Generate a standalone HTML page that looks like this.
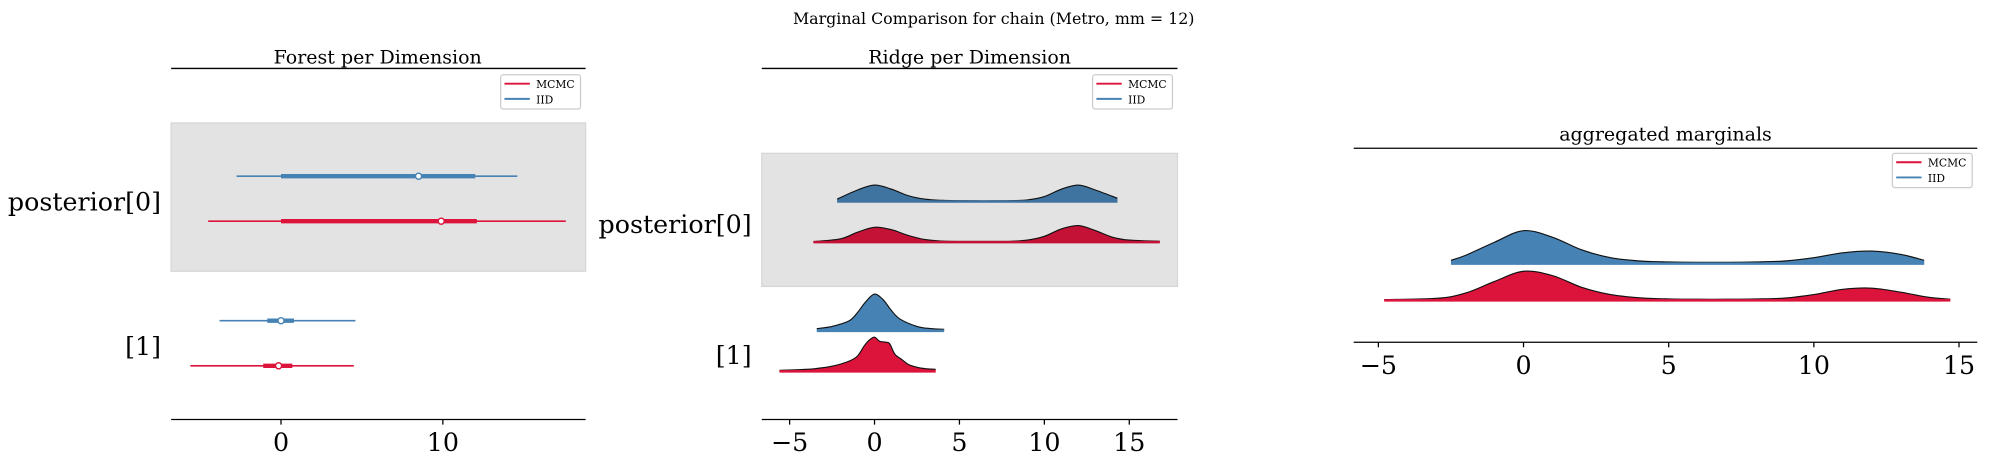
<!DOCTYPE html>
<html><head><meta charset="utf-8"><style>
body{margin:0;background:#fff}
svg{display:block;font-family:"DejaVu Serif","Liberation Serif",serif}
</style></head><body>
<svg id="c" width="1990" height="465" xmlns="http://www.w3.org/2000/svg"><g id="root" transform="scale(1.2675)"></g></svg>
<script>
// ---- data ----
const forestRows = ["posterior[0]", "[1]"];
const forestIIDLow = [-2.74, -3.8], forestIIDHigh = [14.6, 4.6];
const forestIIDQ1 = [0.0, -0.85], forestIIDQ3 = [12.0, 0.8], forestIIDMed = [8.5, 0.0];
const forestMCMCLow = [-4.5, -5.6], forestMCMCHigh = [17.6, 4.5];
const forestMCMCQ1 = [0.0, -1.1], forestMCMCQ3 = [12.1, 0.7], forestMCMCMed = [9.9, -0.15];
const forestTicks = [0, 10];
const ridgeTicks = [-5, 0, 5, 10, 15];
const aggTicks = [-5, 0, 5, 10, 15];
// densities (x grid, relative height)
const iid0X = [-2.2,-1,0,1,2,3,4,5,6,7,8,9,10,11,12,13,14.3];
const iid0Y = [0.15,0.7,1.0,0.75,0.35,0.14,0.07,0.05,0.04,0.04,0.05,0.1,0.3,0.75,1.0,0.7,0.2];
const mcmc0X = [-3.6,-2,-1,0,1,2,3,4,5,6,7,8,9,10,11,12,13,14,15,16.8];
const mcmc0Y = [0.03,0.2,0.6,0.9,0.75,0.4,0.15,0.06,0.04,0.04,0.04,0.05,0.12,0.35,0.8,1.0,0.7,0.3,0.12,0.05];
const iid1X = [-3.4,-2.5,-1.5,-1,-0.5,0,0.5,1,1.5,2.5,3.3,4.1];
const iid1Y = [0.06,0.12,0.27,0.5,0.8,1.0,0.85,0.55,0.32,0.12,0.06,0.04];
const mcmc1X = [-5.6,-4.5,-3.5,-2.5,-1.5,-1,-0.6,-0.3,0,0.3,0.7,0.9,1.2,1.6,2,2.5,3,3.6];
const mcmc1Y = [0.03,0.05,0.08,0.15,0.3,0.45,0.75,0.92,1.0,0.88,0.85,0.8,0.5,0.35,0.2,0.12,0.08,0.06];
const aggIIDX = [-2.5,-2,-1,0,1,2,3,4,5,6,7,8,9,10,11,12,13,13.8];
const aggIIDY = [0.1,0.25,0.65,1.0,0.8,0.42,0.18,0.08,0.05,0.04,0.04,0.05,0.08,0.18,0.33,0.38,0.28,0.1];
const aggMCMCX = [-4.8,-3,-2,-1,0,1,2,3,4,5,6,7,8,9,10,11,12,13,14,14.7];
const aggMCMCY = [0.03,0.07,0.25,0.65,1.0,0.85,0.45,0.2,0.09,0.05,0.04,0.04,0.05,0.08,0.2,0.38,0.42,0.28,0.1,0.04];

const NS="http://www.w3.org/2000/svg";
const svg=document.getElementById('root');
function el(t,a,p){const e=document.createElementNS(NS,t);for(const k in a)e.setAttribute(k,a[k]);(p||svg).appendChild(e);return e;}
function txt(s,a,p){const e=el('text',a,p);e.textContent=s;return e;}
const RED="#dc143c", BLUE="#4682b4";

txt("Marginal Comparison for chain (Metro, mm = 12)",{x:784,y:19,'font-size':12.5,'text-anchor':'middle'});

function legend(x,y){
  const g=el('g',{});
  
  
  el('rect',{x:x,y:y,width:63,height:27,fill:'#fff',stroke:'#ccc',rx:2},g);
  el('line',{x1:x+3,x2:x+23,y1:y+7,y2:y+7,stroke:RED,'stroke-width':1.5},g);
  el('line',{x1:x+3,x2:x+23,y1:y+19,y2:y+19,stroke:BLUE,'stroke-width':1.5},g);
  txt("MCMC",{x:x+28,y:y+10.5,'font-size':8.5},g);
  txt("IID",{x:x+28,y:y+22.5,'font-size':8.5},g);
}
function axisX(x0,x1,d0,d1,y,ticks){
  const sx=v=>x0+(v-d0)/(d1-d0)*(x1-x0);
  el('line',{x1:x0,x2:x1,y1:y,y2:y,stroke:'#000','stroke-width':1});
  ticks.forEach(t=>{
    el('line',{x1:sx(t),x2:sx(t),y1:y,y2:y+4,stroke:'#000'});
    const e=txt(String(t).replace('-','\u2212'),{x:sx(t),y:y+25,'font-size':20,'text-anchor':'middle'});
    
  });
  return sx;
}
function curve(pts){
  let d=`M${pts[0][0]},${pts[0][1]}`;
  for(let i=0;i<pts.length-1;i++){
    const p0=pts[Math.max(0,i-1)],p1=pts[i],p2=pts[i+1],p3=pts[Math.min(pts.length-1,i+2)];
    const c1=[p1[0]+(p2[0]-p0[0])/6,p1[1]+(p2[1]-p0[1])/6];
    const c2=[p2[0]-(p3[0]-p1[0])/6,p2[1]-(p3[1]-p1[1])/6];
    d+=` C${c1[0]},${c1[1]} ${c2[0]},${c2[1]} ${p2[0]},${p2[1]}`;
  }
  return d;
}
function ridge(xs,ys,sx,base,h,fill,name){
  const m=Math.max(...ys);
  const pts=xs.map((x,i)=>[sx(x),base-ys[i]/m*h]);
  const top=curve(pts);
  const f=el('path',{d:top+` L${sx(xs[xs.length-1])},${base} L${sx(xs[0])},${base} Z`,fill:fill});
  
  
  el('path',{d:top,fill:'none',stroke:'#111','stroke-width':0.9});
  el('line',{x1:sx(xs[0]),x2:sx(xs[xs.length-1]),y1:base,y2:base,stroke:fill,'stroke-width':2});
}

// ---- Forest ----
txt("Forest per Dimension",{x:298,y:50,'font-size':15,'text-anchor':'middle'});
el('line',{x1:135,x2:462,y1:54,y2:54,stroke:'#000'});
el('rect',{x:135,y:97,width:327,height:117,fill:'#e3e3e3',stroke:'#d6d6d6'});
const fsx=axisX(135,462,-6.79,18.82,331,forestTicks);
const fIIDy=[139,253], fMCy=[174.5,288.6], fLab=[166,280];
forestRows.forEach((r,i)=>{
  txt(r,{x:127,y:fLab[i],'font-size':20,'text-anchor':'end'});
  [[forestIIDLow,forestIIDHigh,forestIIDQ1,forestIIDQ3,forestIIDMed,fIIDy,BLUE,'iid'],[forestMCMCLow,forestMCMCHigh,forestMCMCQ1,forestMCMCQ3,forestMCMCMed,fMCy,RED,'mcmc']].forEach(s=>{
    const y=s[5][i];
    el('line',{x1:fsx(s[0][i]),x2:fsx(s[1][i]),y1:y,y2:y,stroke:s[6],'stroke-width':1.3});
    const b=el('line',{x1:fsx(s[2][i]),x2:fsx(s[3][i]),y1:y,y2:y,stroke:s[6],'stroke-width':3.5});
    
    el('circle',{cx:fsx(s[4][i]),cy:y,r:2.4,fill:'#fff',stroke:s[6],'stroke-width':1.1});
  });
});
legend(395,59);

// ---- Ridge ----
txt("Ridge per Dimension",{x:765,y:50,'font-size':15,'text-anchor':'middle'});
el('line',{x1:601,x2:929,y1:54,y2:54,stroke:'#000'});
el('rect',{x:601,y:121,width:328,height:105,fill:'#e3e3e3',stroke:'#d6d6d6'});
const rsx=axisX(601,929,-6.64,17.84,331,ridgeTicks);
txt("posterior[0]",{x:593,y:184,'font-size':20,'text-anchor':'end'});
txt("[1]",{x:593,y:287,'font-size':20,'text-anchor':'end'});
ridge(iid0X,iid0Y,rsx,159,13,'#3f73a0','ridge-iid-0');
ridge(mcmc0X,mcmc0Y,rsx,191,13,'#c41236','ridge-mcmc-0');
ridge(iid1X,iid1Y,rsx,261,29,BLUE,'ridge-iid-1');
ridge(mcmc1X,mcmc1Y,rsx,293,27,RED,'ridge-mcmc-1');
legend(862,59);

// ---- Aggregated ----
txt("aggregated marginals",{x:1314,y:111,'font-size':15,'text-anchor':'middle'});
el('line',{x1:1068,x2:1560,y1:117,y2:117,stroke:'#000'});
const asx=axisX(1068,1560,-5.85,15.63,270,aggTicks);
ridge(aggIIDX,aggIIDY,asx,208,26,BLUE,'agg-iid');
ridge(aggMCMCX,aggMCMCY,asx,237,23,RED,'agg-mcmc');
legend(1493,121);
</script>
</body></html>
